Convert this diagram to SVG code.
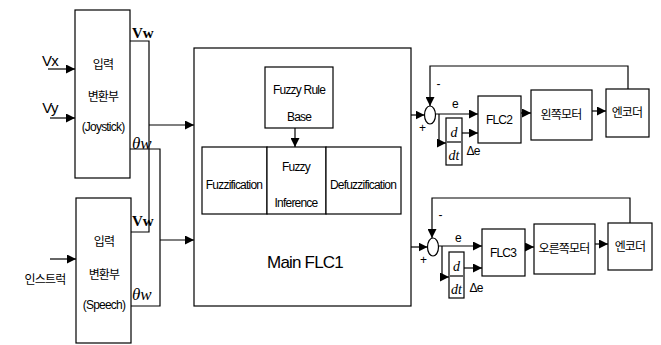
<svg xmlns="http://www.w3.org/2000/svg" width="661" height="345" viewBox="0 0 661 345">
<style>
.b{fill:#fff;stroke:#000;stroke-width:1.2}
.l{fill:none;stroke:#000;stroke-width:1.2}
.t{font-family:"Liberation Sans","Noto Sans CJK KR",sans-serif;font-size:12px;fill:#000;text-anchor:middle;letter-spacing:-0.8px}
.k{font-family:"Noto Sans CJK KR","Liberation Sans",sans-serif;font-size:12px;fill:#000;text-anchor:middle;letter-spacing:-0.8px}
.s{font-family:"Liberation Serif",serif;fill:#000}
</style>
<defs>
<marker id="a" viewBox="0 0 10 10" refX="10" refY="5" markerWidth="9" markerHeight="9" markerUnits="userSpaceOnUse" orient="auto"><path d="M0,0 L10,5 L0,10 Z" fill="#000"/></marker>
</defs>
<g id="joystick">
<rect class="b" x="75" y="10" width="55" height="168"/>
<text class="k" x="103" y="69">입력</text>
<text class="k" x="103" y="101">변환부</text>
<text class="t" x="103" y="131">(Joystick)</text>
<text class="s" x="132" y="38" font-size="15" font-weight="bold">Vw</text>
<text class="s" x="132" y="149" font-size="17" font-style="italic">θw</text>
</g>
<g id="speech">
<rect class="b" x="76" y="198" width="55" height="145"/>
<text class="k" x="104" y="246">입력</text>
<text class="k" x="104" y="279">변환부</text>
<text class="t" x="104" y="309">(Speech)</text>
<text class="s" x="132" y="226" font-size="15" font-weight="bold">Vw</text>
<text class="s" x="132" y="300" font-size="17" font-style="italic">θw</text>
</g>
<g id="inputs">
<text class="t" x="50" y="66" font-size="15" style="font-size:15px">Vx</text>
<text class="t" x="50" y="113" font-size="15" style="font-size:15px">Vy</text>
<text class="k" x="45" y="284">인스트럭</text>
</g>
<g id="mainflc">
<rect class="b" x="194" y="48" width="217" height="258"/>
<text class="t" x="305" y="268" style="font-size:17px">Main FLC1</text>
</g>
<g id="rulebase">
<rect class="b" x="265" y="67" width="68" height="61"/>
<text class="t" x="299" y="94">Fuzzy Rule</text>
<text class="t" x="299" y="121">Base</text>
</g>
<g id="fuzzification">
<rect class="b" x="202" y="147" width="65" height="67"/>
<text class="t" x="234" y="189">Fuzzification</text>
</g>
<g id="inference">
<rect class="b" x="267" y="147" width="59" height="67"/>
<text class="t" x="296" y="171">Fuzzy</text>
<text class="t" x="296" y="207">Inference</text>
</g>
<g id="defuzzification">
<rect class="b" x="326" y="147" width="75" height="67"/>
<text class="t" x="363" y="189">Defuzzification</text>
</g>
<g id="sum1">
<ellipse class="b" cx="430" cy="115" rx="5.5" ry="9"/>
<text class="t" x="422" y="132">+</text>
<text class="t" x="438" y="88">-</text>
</g>
<g id="ddt1">
<rect class="b" x="446" y="118" width="16" height="47"/>
<text class="s" x="454" y="137" font-size="14" font-style="italic" text-anchor="middle">d</text>
<line class="l" x1="447" y1="142" x2="461" y2="142"/>
<text class="s" x="454" y="160" font-size="14" font-style="italic" text-anchor="middle">dt</text>
</g>
<g id="flc2">
<rect class="b" x="478" y="96" width="43" height="47"/>
<text class="t" x="499" y="124">FLC2</text>
</g>
<g id="leftmotor">
<rect class="b" x="531" y="90" width="61" height="50"/>
<text class="k" x="561" y="119">왼쪽모터</text>
</g>
<g id="encoder1">
<rect class="b" x="606" y="89" width="43" height="48"/>
<text class="k" x="627" y="117">엔코더</text>
</g>
<g id="sum2">
<ellipse class="b" cx="433" cy="247" rx="5.5" ry="9"/>
<text class="t" x="423" y="264">+</text>
<text class="t" x="440" y="219">-</text>
</g>
<g id="ddt2">
<rect class="b" x="449" y="252" width="15" height="46"/>
<text class="s" x="456.5" y="271" font-size="14" font-style="italic" text-anchor="middle">d</text>
<line class="l" x1="450" y1="276" x2="463" y2="276"/>
<text class="s" x="456.5" y="294" font-size="14" font-style="italic" text-anchor="middle">dt</text>
</g>
<g id="flc3">
<rect class="b" x="482" y="229" width="43" height="47"/>
<text class="t" x="503" y="257">FLC3</text>
</g>
<g id="rightmotor">
<rect class="b" x="534" y="224" width="61" height="50"/>
<text class="k" x="564" y="253">오른쪽모터</text>
</g>
<g id="encoder2">
<rect class="b" x="608" y="223" width="44" height="47"/>
<text class="k" x="630" y="251">엔코더</text>
</g>
<g id="connectors">
<path class="l" d="M48,69 H75" marker-end="url(#a)"/>
<path class="l" d="M50,118 H75" marker-end="url(#a)"/>
<path class="l" d="M50,259 H76" marker-end="url(#a)"/>
<path class="l" d="M130,41 H149 V232 H131"/>
<path class="l" d="M130,149 H160 V306 H131"/>
<path class="l" d="M149,125 H194" marker-end="url(#a)"/>
<path class="l" d="M160,240 H194" marker-end="url(#a)"/>
<path class="l" d="M295,128 V147" marker-end="url(#a)"/>
<path class="l" d="M411,115 H424.5" marker-end="url(#a)"/>
<path class="l" d="M628,89 V66 H430 V106" marker-end="url(#a)"/>
<path class="l" d="M435.5,114 H478" marker-end="url(#a)"/>
<text class="t" x="455" y="108">e</text>
<path class="l" d="M439,114 V143 H446" marker-end="url(#a)"/>
<path class="l" d="M462,133 H478" marker-end="url(#a)"/>
<text class="t" x="473" y="155">Δe</text>
<path class="l" d="M521,113 H531" marker-end="url(#a)"/>
<path class="l" d="M592,111 H606" marker-end="url(#a)"/>
<path class="l" d="M411,247 H427.5" marker-end="url(#a)"/>
<path class="l" d="M630,223 V198 H432 V238" marker-end="url(#a)"/>
<path class="l" d="M438.5,246 H482" marker-end="url(#a)"/>
<text class="t" x="458" y="242">e</text>
<path class="l" d="M442,246 V277 H449" marker-end="url(#a)"/>
<path class="l" d="M464,268 H482" marker-end="url(#a)"/>
<text class="t" x="476" y="292">Δe</text>
<path class="l" d="M525,247 H534" marker-end="url(#a)"/>
<path class="l" d="M595,244 H608" marker-end="url(#a)"/>
</g>
</svg>
